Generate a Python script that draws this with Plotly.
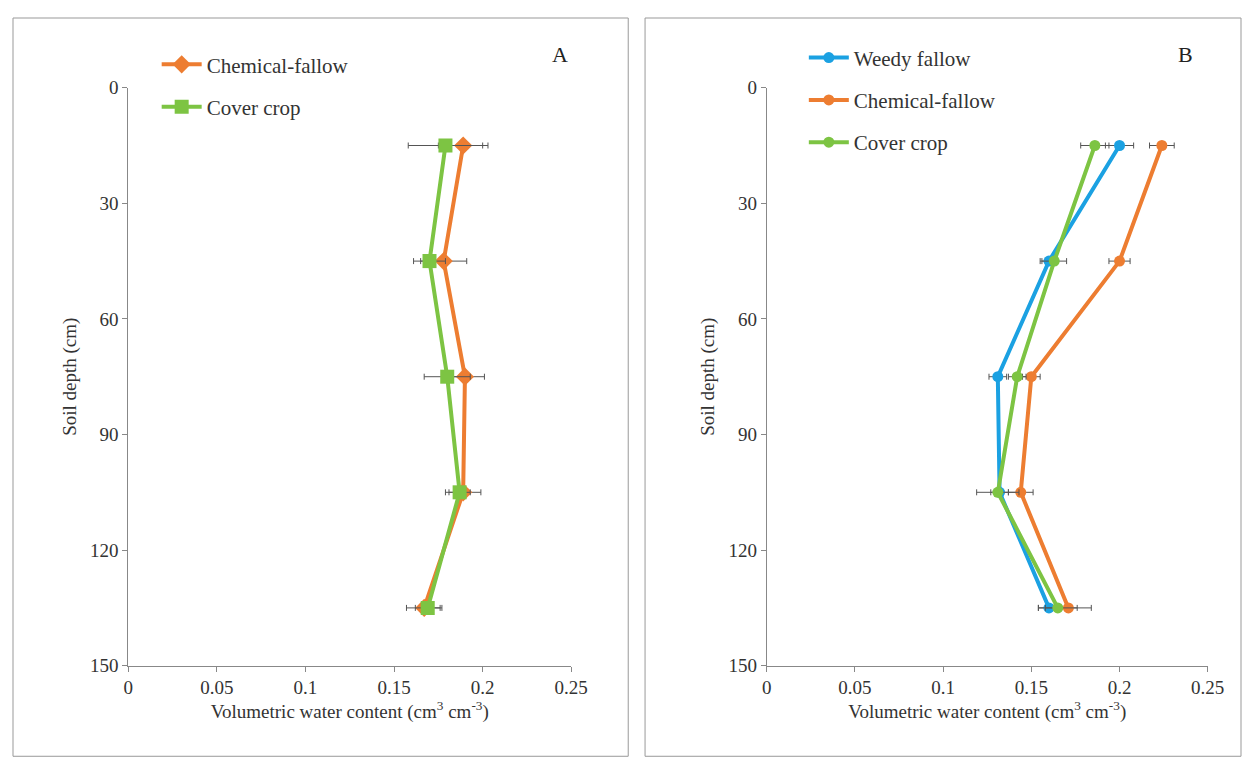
import plotly.graph_objects as go

depth = [15, 45, 75, 105, 135]
a_chem = [0.189, 0.178, 0.190, 0.189, 0.167]
a_chem_err = [0.014, 0.013, 0.011, 0.010, 0.010]
a_cover = [0.179, 0.170, 0.180, 0.187, 0.169]
a_cover_err = [0.021, 0.009, 0.013, 0.006, 0.007]
b_weedy = [0.200, 0.160, 0.131, 0.132, 0.160]
b_weedy_err = [0.008, 0.005, 0.005, 0.005, 0.006]
b_chem = [0.224, 0.200, 0.150, 0.144, 0.171]
b_chem_err = [0.007, 0.006, 0.005, 0.007, 0.013]
b_cover = [0.186, 0.163, 0.142, 0.131, 0.165]
b_cover_err = [0.008, 0.007, 0.005, 0.012, 0.011]

ORANGE = "#ED7D31"; GREEN = "#7DC443"; BLUE = "#1BA1E2"; ERR = "#555555"
F = "Liberation Serif"

fig = go.Figure()
def add(x, err, name, color, sym, size, xa, ya, leg):
    fig.add_trace(go.Scatter(x=x, y=depth, name=name, mode="lines+markers",
        line=dict(color=color, width=4), marker=dict(color=color, symbol=sym, size=size),
        error_x=dict(type="data", array=err, color=ERR, thickness=1, width=3),
        xaxis=xa, yaxis=ya, legend=leg, legendgroup=name + leg))

add(a_chem, a_chem_err, "Chemical-fallow", ORANGE, "diamond", 14, "x", "y", "legend")
add(a_cover, a_cover_err, "Cover crop", GREEN, "square", 14, "x", "y", "legend")
add(b_weedy, b_weedy_err, "Weedy fallow", BLUE, "circle", 11, "x2", "y2", "legend2")
add(b_chem, b_chem_err, "Chemical-fallow", ORANGE, "circle", 11, "x2", "y2", "legend2")
add(b_cover, b_cover_err, "Cover crop", GREEN, "circle", 11, "x2", "y2", "legend2")

xt = [0, 0.05, 0.1, 0.15, 0.2, 0.25]
xl = ["0", "0.05", "0.1", "0.15", "0.2", "0.25"]
xcommon = dict(range=[0, 0.25], tickvals=xt, ticktext=xl, showgrid=False, zeroline=False,
               showline=True, linecolor="#888", ticks="outside", ticklen=5, tickcolor="#888",
               tickfont=dict(family=F, size=19, color="#333"),
               title=dict(text="Volumetric water content (cm<sup>3</sup> cm<sup>-3</sup>)",
                          font=dict(family=F, size=19, color="#333"), standoff=6))
ycommon = dict(range=[150, 0], tickvals=[0, 30, 60, 90, 120, 150], showgrid=False, zeroline=False,
               showline=True, linecolor="#888", ticks="outside", ticklen=5, tickcolor="#888",
               tickfont=dict(family=F, size=19, color="#333"),
               title=dict(text="Soil depth (cm)", font=dict(family=F, size=19, color="#333"), standoff=8))

leg = dict(font=dict(family=F, size=21, color="#333"), bgcolor="rgba(0,0,0,0)", yanchor="top",
           xanchor="left", tracegroupgap=12, itemwidth=40)
fig.update_layout(
    width=1250, height=769, margin=dict(l=0, r=0, t=0, b=0),
    paper_bgcolor="white", plot_bgcolor="white",
    xaxis=dict(domain=[0.0939, 0.4546], anchor="y", **xcommon),
    yaxis=dict(domain=[0.1341, 0.9068], anchor="x", **ycommon),
    xaxis2=dict(domain=[0.6138, 0.9729], anchor="y2", **xcommon),
    yaxis2=dict(domain=[0.1341, 0.9068], anchor="x2", **ycommon),
    legend=dict(x=0.117, y=0.965, **leg),
    legend2=dict(x=0.644, y=0.974, **leg),
    shapes=[dict(type="rect", xref="paper", yref="paper", x0=0.0, x1=0.501, y0=0.013, y1=1.0,
                 line=dict(color="#999", width=1)),
            dict(type="rect", xref="paper", yref="paper", x0=0.5147, x1=1.0, y0=0.013, y1=1.0,
                 line=dict(color="#999", width=1))],
    annotations=[dict(text="A", x=0.4457, y=0.97, xref="paper", yref="paper", showarrow=False,
                      font=dict(family=F, size=22, color="#222")),
                 dict(text="B", x=0.9623, y=0.97, xref="paper", yref="paper", showarrow=False,
                      font=dict(family=F, size=22, color="#222"))],
)
fig.write_html("out.html")
